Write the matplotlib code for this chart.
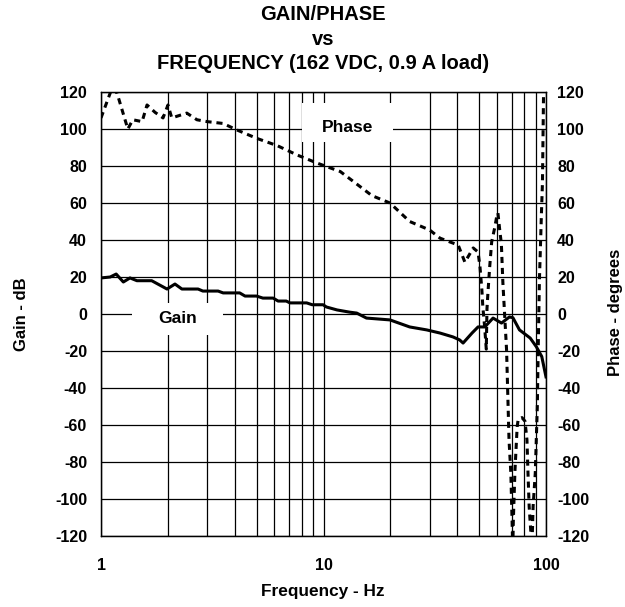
# Gain / phase vs frequency (Bode plot), log x axis, shared +-120 scale for dB and degrees
import matplotlib
matplotlib.use("Agg")
import matplotlib.pyplot as plt
from matplotlib.patches import Rectangle

# ====== DATA ======
gain_freq = [1.0, 1.1, 1.17, 1.26, 1.35, 1.45, 1.69, 1.98, 2.15, 2.31, 2.73, 2.87, 3.36,
             3.54, 4.2, 4.44, 5.0, 5.34, 5.94, 6.25, 6.8, 7.07, 8.4, 8.9, 9.96, 10.3,
             11.5, 13.1, 14.1, 15.6, 19.9, 24.4, 29.1, 33.4, 38.2, 40.9, 42.4, 46.5,
             49.5, 53.1, 57.8, 63.1, 68.5, 71.0, 76.0, 84.9, 90.6, 95.7, 100.0]
gain_db = [19.5, 20, 21.6, 17.3, 19.5, 18, 18, 13.5, 16.2, 13.5, 13.5, 12.4, 12.4,
           11.4, 11.4, 9.7, 9.7, 8.6, 8.6, 7, 7, 6, 6, 5, 5, 3.8,
           2.2, 1, 0.5, -2.2, -3.2, -7, -8.6, -10.3, -12.4, -14, -15.7, -10.3,
           -7, -7, -2.2, -4.9, -1.6, -2.0, -8.6, -13, -17.8, -23, -34]

phase_freq = [1.0, 1.12, 1.18, 1.32, 1.39, 1.53, 1.61, 1.75, 1.9, 2.0, 2.08, 2.43, 2.7,
              3.0, 3.54, 4.08, 5.0, 6.2, 7.6, 9.35, 11.9, 13.5, 16.5, 19.9, 24.4, 30.0,
              33.4, 36.9, 40.3, 43.2, 47.1, 49.5, 50.5, 51.5, 52.0, 53.0, 53.9, 54.3,
              54.8, 55.8, 57.0, 58.9, 60.2, 60.8, 62.0, 63.0, 64.0, 66.5, 68.2, 69.5,
              70.4, 70.9, 71.3, 72.5, 74.2, 75.0, 78.0, 80.5, 82.1, 83.0, 84.0, 85.7,
              86.3, 87.0, 87.5, 89.5, 91.4, 92.4, 93.4, 95.4, 96.4, 97.5, 98.0]
phase_deg = [106, 122, 119.5, 100, 105, 104, 113, 109, 106, 113, 106, 108.6, 105,
             104, 103, 99.5, 95, 91, 86, 81.6, 77, 72, 64, 60, 50, 45.4,
             41, 39, 37.3, 28, 35.7, 33.5, 25.4, 13, 4, -7, -19, 3,
             11, 25, 39, 47, 53.5, 54.6, 45, 38, 17, -19.5, -68, -86,
             -112, -128, -112, -85, -61, -57, -56, -58, -68, -86, -104, -120,
             -128, -115, -104, -86, -50, -14, 18, 54.6, 71, 119.5, 130]

y_ticks = list(range(-120, 121, 20))
x_ticks = [1, 10, 100]
x_tick_labels = ["1", "10", "100"]

plt.rcParams["font.family"] = ["Liberation Sans", "DejaVu Sans"]
plt.rcParams["font.weight"] = "bold"
plt.rcParams["axes.unicode_minus"] = False  # plain hyphen minus like the original

fig = plt.figure(figsize=(6.25, 6.07), dpi=100)
ax = fig.add_axes([0.1616, 0.117, 0.712, 0.7314])
ax.set_xscale("log")
ax.set_xlim(1, 100)
ax.set_ylim(-120, 120)

# grid: every decade sub-division on x, every 20 on y
ax.set_axisbelow(True)
ax.set_yticks(y_ticks)
ax.set_xticks(x_ticks)
ax.set_xticklabels(x_tick_labels)
ax.grid(True, which="both", color="black", linewidth=0.9)
ax.tick_params(which="both", length=0, labelsize=11.5)
ax.tick_params(axis="x", pad=16)
ax.tick_params(axis="y", pad=10)
ax.xaxis.set_minor_formatter(plt.NullFormatter())
for s in ax.spines.values():
    s.set_linewidth(0.9)

ax2 = ax.twinx()
ax2.set_ylim(-120, 120)
ax2.set_yticks(y_ticks)
ax2.tick_params(length=0, labelsize=11.5, pad=8)
for s in ax2.spines.values():
    s.set_linewidth(0.9)

ax.plot(gain_freq, gain_db, color="black", linewidth=2.2, zorder=3)
ax.plot(phase_freq, phase_deg, color="black", linewidth=2.2, dashes=(2.0, 1.6), zorder=3)

# white label boxes that blank out the grid
ax.add_patch(Rectangle((0.452, 0.887), 0.204, 0.088, transform=ax.transAxes,
                       facecolor="white", edgecolor="none", zorder=1))
ax.text(0.554, 0.919, "Phase", transform=ax.transAxes, ha="center", va="center",
        fontsize=12.5, fontweight="bold", zorder=4)
ax.add_patch(Rectangle((0.070, 0.453), 0.204, 0.072, transform=ax.transAxes,
                       facecolor="white", edgecolor="none", zorder=1))
ax.text(0.172, 0.489, "Gain", transform=ax.transAxes, ha="center", va="center",
        fontsize=12.5, fontweight="bold", zorder=4)

fig.text(0.517, 0.026, "Frequency - Hz", ha="center", va="center", fontsize=12.4,
         fontweight="bold")
fig.text(0.035, 0.483, "Gain - dB", ha="center", va="center", rotation=90,
         fontsize=12, fontweight="bold")
fig.text(0.985, 0.486, "Phase - degrees", ha="center", va="center", rotation=90,
         fontsize=12, fontweight="bold")

fig.text(0.517, 0.992, "GAIN/PHASE\nvs\nFREQUENCY (162 VDC, 0.9 A load)", ha="center",
         va="top", fontsize=14.5, fontweight="bold", linespacing=1.38)

fig.savefig("out.png", dpi=100)
